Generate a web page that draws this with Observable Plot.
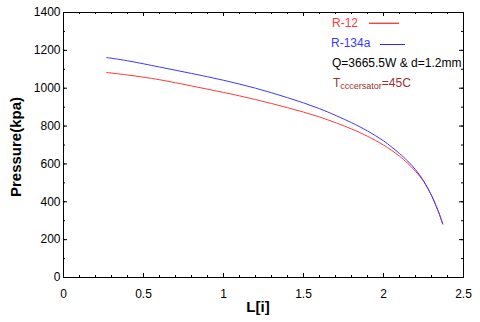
<!DOCTYPE html>
<html>
<head>
<meta charset="utf-8">
<script src="https://cdn.jsdelivr.net/npm/d3@7"></script>
<script src="https://cdn.jsdelivr.net/npm/@observablehq/plot@0.6"></script>
<style>
  body { margin: 0; background: #fff; }
  #wrap { position: relative; width: 480px; height: 322px; font-family: "Liberation Sans", Arial, sans-serif; }
  #wrap svg.plot { position: absolute; left: 0; top: 0; }
  .ylab { position: absolute; left: 15px; top: 147px; transform: translate(-50%, -50%) rotate(-90deg); font-weight: bold; font-size: 15px; white-space: nowrap; }
  .xlab { position: absolute; left: 258px; top: 306px; transform: translate(-50%, -50%); font-weight: bold; font-size: 15px; white-space: nowrap; }
  .ann { position: absolute; left: 0; top: 0; pointer-events: none; }
</style>
</head>
<body>
<div id="wrap"></div>
<script>
// Data
const L = [0.27, 0.4, 0.6, 0.8, 1.0, 1.2, 1.4, 1.6, 1.8, 1.9, 2.0, 2.1, 2.15, 2.2, 2.25, 2.3, 2.33, 2.35, 2.37];
const pR12 = [1083, 1070, 1045, 1012, 978, 940, 897, 848, 785, 746, 700, 641, 604, 561, 508, 433, 375, 332, 283];
const pR134a = [1162, 1145, 1112, 1078, 1042, 1000, 950, 892, 818, 774, 722, 655, 616, 570, 511, 434, 376, 333, 283];
const seriesNames = ["R-12", "R-134a"];
const seriesColors = ["#ff3a3a", "#3a3aff"];

const xMajor = [0, 0.5, 1, 1.5, 2, 2.5];
const xMinor = d3.range(0, 26).map(i => i / 10);
const yMajor = [0, 200, 400, 600, 800, 1000, 1200, 1400];
const yMinor = d3.range(0, 15).map(i => i * 100);

const rows = [];
L.forEach((l, i) => {
  rows.push({L: l, P: pR12[i], s: seriesNames[0]});
  rows.push({L: l, P: pR134a[i], s: seriesNames[1]});
});

const W = 480, H = 322, mL = 63, mR = 17, mT = 12, mB = 45;
const fw = W - mL - mR, fh = H - mT - mB;

const chart = Plot.plot({
  width: W, height: H,
  marginLeft: mL, marginRight: mR, marginTop: mT, marginBottom: mB,
  style: {fontFamily: '"Liberation Sans", Arial, sans-serif', fontSize: "12px", color: "#000", background: "#fff"},
  x: {domain: [0, 2.5], label: null},
  y: {domain: [0, 1400], label: null},
  color: {domain: seriesNames, range: seriesColors},
  marks: [
    Plot.axisX({ticks: xMajor, tickSize: 0, tickPadding: 12, tickFormat: d => String(d), label: null}),
    Plot.axisY({ticks: yMajor, tickSize: 0, tickPadding: 3, tickFormat: d => String(d), label: null}),
    Plot.tickX(xMinor, {x: d => d, insetTop: fh - 2, stroke: "#000"}),
    Plot.tickX(xMajor, {x: d => d, insetTop: fh - 4, stroke: "#000"}),
    Plot.tickX(xMinor, {x: d => d, insetBottom: fh - 2, stroke: "#000"}),
    Plot.tickX(xMajor, {x: d => d, insetBottom: fh - 4, stroke: "#000"}),
    Plot.tickY(yMinor, {y: d => d, insetRight: fw - 2, stroke: "#000"}),
    Plot.tickY(yMajor, {y: d => d, insetRight: fw - 4, stroke: "#000"}),
    Plot.tickY(yMinor, {y: d => d, insetLeft: fw - 2, stroke: "#000"}),
    Plot.tickY(yMajor, {y: d => d, insetLeft: fw - 4, stroke: "#000"}),
    Plot.line(rows, {x: "L", y: "P", z: "s", stroke: "s", strokeWidth: 1, curve: "catmull-rom"}),
    Plot.frame({stroke: "#000"})
  ]
});
chart.classList.add("plot");
const wrap = document.getElementById("wrap");
wrap.appendChild(chart);

const ylab = document.createElement("div");
ylab.className = "ylab"; ylab.textContent = "Pressure(kpa)";
wrap.appendChild(ylab);
const xlab = document.createElement("div");
xlab.className = "xlab"; xlab.textContent = "L[i]";
wrap.appendChild(xlab);

// Legend / annotation overlay
const ns = "http://www.w3.org/2000/svg";
const lg = document.createElementNS(ns, "svg");
lg.setAttribute("class", "ann");
lg.setAttribute("width", W); lg.setAttribute("height", H);
lg.innerHTML = `
  <g font-family='"Liberation Sans", Arial, sans-serif' font-size="12">
    <text x="332" y="27" style="fill:#ff3a3a">${seriesNames[0]}</text>
    <rect x="369" y="22.6" width="30" height="1.4" style="fill:#ff4040"/>
    <text x="331" y="47" style="fill:#3a3aff">${seriesNames[1]}</text>
    <rect x="380" y="44" width="25" height="1" style="fill:#2a2aff"/>
    <text x="332" y="67" style="fill:#000">Q=3665.5W &amp; d=1.2mm</text>
    <text x="333" y="87" style="fill:#9a3030">T<tspan font-size="9" dy="2">cccersator</tspan><tspan dy="-2">=45C</tspan></text>
  </g>`;
wrap.appendChild(lg);
</script>
</body>
</html>
